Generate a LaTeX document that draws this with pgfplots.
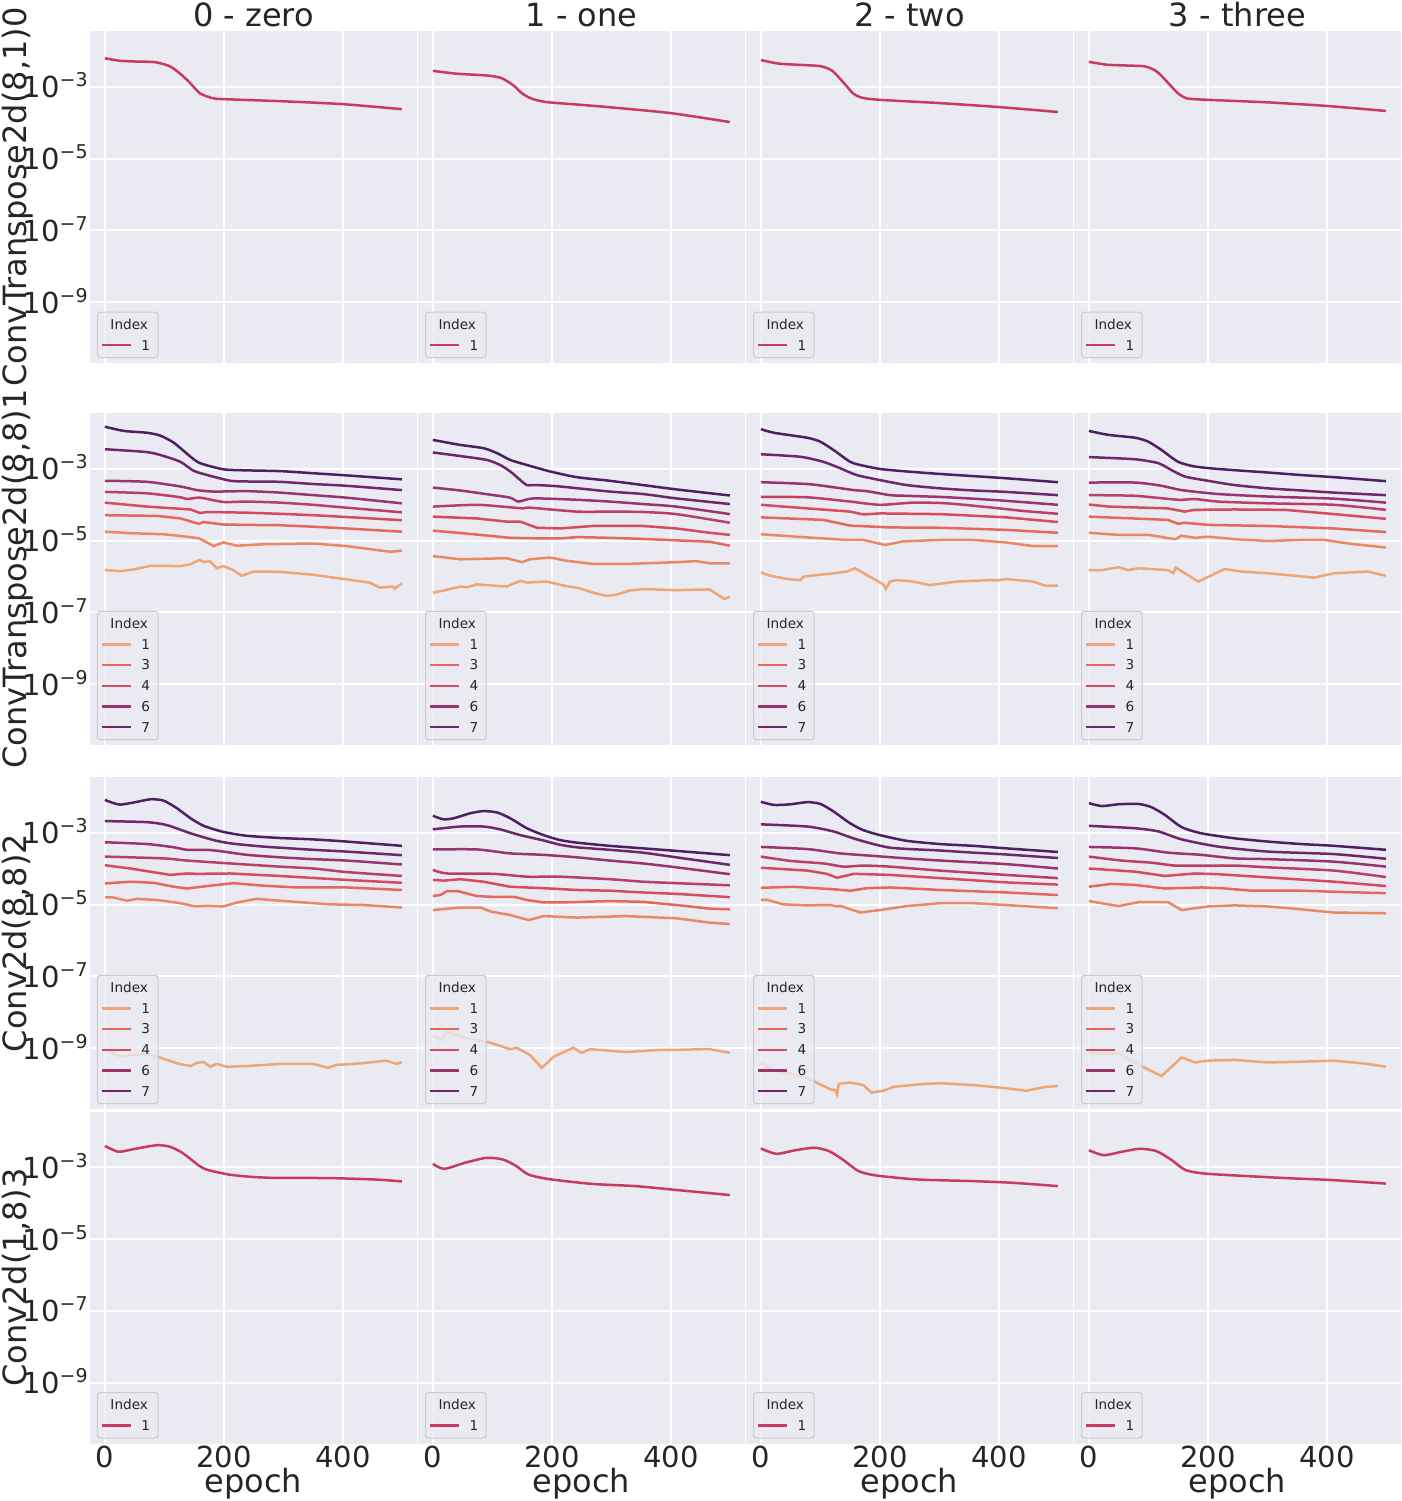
\documentclass[border=0pt]{standalone}
\usepackage{fontspec}
\setmainfont{DejaVu Sans}
\usepackage{pgfplots}
\pgfplotsset{compat=1.18}
\definecolor{seabg}{HTML}{EAEAF2}
\definecolor{txt}{HTML}{262626}
\definecolor{legedge}{HTML}{CCCCCC}
\definecolor{C0}{HTML}{EEA676}
\definecolor{C1}{HTML}{EA8866}
\definecolor{C2}{HTML}{E4695C}
\definecolor{C3}{HTML}{D54B5F}
\definecolor{C4}{HTML}{BB3E67}
\definecolor{C5}{HTML}{9A346E}
\definecolor{C6}{HTML}{6E2869}
\definecolor{C7}{HTML}{4E2062}
\definecolor{CS}{HTML}{C73B60}
\newcommand{\tenpow}[1]{10\raisebox{5.5pt}{\fontsize{9.5}{9.5}\selectfont −#1}}
\newcommand{\Lsingle}{\addlegendimage{empty legend}\addlegendentry{\hspace*{-15.5pt}Index}%
\addlegendimage{draw=CS}\addlegendentry{1}}
\newcommand{\Lmulti}{\addlegendimage{empty legend}\addlegendentry{\hspace*{-15.5pt}Index}%
\addlegendimage{draw=C0}\addlegendentry{1}%
\addlegendimage{draw=C2}\addlegendentry{3}%
\addlegendimage{draw=C3}\addlegendentry{4}%
\addlegendimage{draw=C5}\addlegendentry{6}%
\addlegendimage{draw=C6}\addlegendentry{7}}
\pgfplotsset{legend image code/.code={\draw[#1, line width=1.25pt] (0pt,0pt) -- (14.5pt,0pt);}}
\pgfplotsset{
  mys0/.style={draw=C0, line width=1.25pt, forget plot},
  mys1/.style={draw=C1, line width=1.25pt, forget plot},
  mys2/.style={draw=C2, line width=1.25pt, forget plot},
  mys3/.style={draw=C3, line width=1.25pt, forget plot},
  mys4/.style={draw=C4, line width=1.25pt, forget plot, smooth, tension=0.4},
  mys5/.style={draw=C5, line width=1.25pt, forget plot, smooth, tension=0.4},
  mys6/.style={draw=C6, line width=1.25pt, forget plot, smooth, tension=0.4},
  mys7/.style={draw=C7, line width=1.25pt, forget plot, smooth, tension=0.4},
  myss/.style={draw=CS, line width=1.25pt, forget plot, smooth, tension=0.4},
  mypanel/.style={
    scale only axis, width=163.35pt, height=166pt, anchor=north west,
    xmin=-24.95, xmax=523.95, ymin=2.0e-11, ymax=3.63e-2,
    xtick={0,200,400}, ytick={1e-9,1e-7,1e-5,1e-3},
    grid=major, grid style={white, line width=1pt},
    axis background/.style={fill=seabg},
    axis line style={draw=none},
    major tick length=0pt, minor tick length=0pt,
    xticklabels={,,}, yticklabels={,,,},
    legend cell align=left,
    legend style={at={(0,0)}, anchor=south west, xshift=3.5pt, yshift=2.5pt,
      draw=legedge, line width=0.5pt, fill=seabg, fill opacity=0.8, draw opacity=1, text opacity=1,
      rounded corners=1.5pt, font=\fontsize{6.8}{6.8}\selectfont, text=txt,
      inner xsep=1.5pt, inner ysep=1pt, row sep=0pt,
      /tikz/every odd column/.append style={column sep=4.75pt},
      nodes={inner sep=0pt, text height=4.9pt, text depth=0pt, minimum height=10.35pt, text width=6.8pt, align=left}},
  },
  myxl/.style={xticklabels={0,200,400}, xticklabel style={font=\fontsize{14.5}{14.5}\selectfont, text=txt, anchor=north, inner sep=0pt, text depth=0pt, yshift=-1pt}},
  myyl/.style={yticklabels={\tenpow{9},\tenpow{7},\tenpow{5},\tenpow{3}}, yticklabel style={font=\fontsize{14.5}{14.5}\selectfont, text=txt, anchor=base east, inner sep=0pt, xshift=-1pt, yshift=-5.5pt}},
}
\begin{document}
\begin{tikzpicture}
\path[use as bounding box] (0,0) rectangle (701pt,-750.5pt);
% ---------------- Row 0 ----------------
\begin{semilogyaxis}[mypanel, myyl, at={(45pt,-15.5pt)}]
\addplot[myss] coordinates {(0,6.31e-3)(25,5.37e-3)(50,5.13e-3)(85,4.90e-3)(110,3.72e-3)(130,2.09e-3)(145,1.20e-3)(160,6.61e-4)(180,4.90e-4)(200,4.57e-4)(300,3.98e-4)(400,3.31e-4)(499,2.40e-4)};
\Lsingle
\end{semilogyaxis}
\begin{semilogyaxis}[mypanel, at={(209pt,-15.5pt)}]
\addplot[myss] coordinates {(0,2.82e-3)(40,2.34e-3)(90,2.09e-3)(115,1.78e-3)(135,1.12e-3)(150,6.61e-4)(165,4.79e-4)(190,3.80e-4)(250,3.16e-4)(300,2.69e-4)(400,1.86e-4)(499,1.05e-4)};
\Lsingle
\end{semilogyaxis}
\begin{semilogyaxis}[mypanel, at={(373pt,-15.5pt)}]
\addplot[myss] coordinates {(0,5.62e-3)(30,4.47e-3)(60,4.17e-3)(100,3.80e-3)(120,2.82e-3)(140,1.26e-3)(155,6.61e-4)(170,5.01e-4)(200,4.37e-4)(300,3.55e-4)(400,2.75e-4)(499,2.00e-4)};
\Lsingle
\end{semilogyaxis}
\begin{semilogyaxis}[mypanel, at={(537pt,-15.5pt)}]
\addplot[myss] coordinates {(0,5.01e-3)(30,4.17e-3)(60,3.98e-3)(95,3.72e-3)(115,2.63e-3)(135,1.20e-3)(150,6.61e-4)(165,4.79e-4)(200,4.37e-4)(300,3.72e-4)(400,2.95e-4)(499,2.14e-4)};
\Lsingle
\end{semilogyaxis}
% ---------------- Row 1 ----------------
\begin{semilogyaxis}[mypanel, myyl, at={(45pt,-206.5pt)}]
\addplot[mys7] coordinates {(0,1.51e-2)(32,1.15e-2)(71,1.02e-2)(93,8.51e-3)(116,5.37e-3)(144,2.19e-3)(160,1.45e-3)(199,9.77e-4)(239,9.12e-4)(294,8.71e-4)(350,7.59e-4)(406,6.61e-4)(499,5.13e-4)};
\addplot[mys6] coordinates {(0,3.55e-3)(71,2.95e-3)(99,2.29e-3)(127,1.58e-3)(149,8.91e-4)(172,6.76e-4)(211,4.68e-4)(239,4.47e-4)(294,4.37e-4)(350,3.80e-4)(406,3.39e-4)(499,2.57e-4)};
\addplot[mys5] coordinates {(0,4.68e-4)(71,4.37e-4)(127,3.24e-4)(155,2.57e-4)(183,2.34e-4)(239,2.40e-4)(294,2.19e-4)(350,1.86e-4)(406,1.58e-4)(499,1.10e-4)};
\addplot[mys4] coordinates {(0,2.29e-4)(71,2.09e-4)(127,1.62e-4)(138,1.45e-4)(160,1.58e-4)(199,1.20e-4)(239,1.23e-4)(294,1.15e-4)(350,1.00e-4)(406,8.32e-5)(499,6.17e-5)};
\addplot[mys3] coordinates {(0,1.15e-4)(71,8.91e-5)(144,7.41e-5)(160,5.89e-5)(172,6.31e-5)(239,6.03e-5)(294,5.62e-5)(350,5.13e-5)(406,4.57e-5)(499,3.72e-5)};
\addplot[mys2] coordinates {(0,5.13e-5)(88,4.90e-5)(127,4.17e-5)(158,2.95e-5)(166,3.31e-5)(199,2.82e-5)(239,2.75e-5)(294,2.69e-5)(350,2.45e-5)(406,2.19e-5)(499,1.78e-5)};
\addplot[mys1] coordinates {(0,1.78e-5)(43,1.62e-5)(99,1.51e-5)(127,1.35e-5)(158,1.17e-5)(183,7.08e-6)(199,8.91e-6)(222,7.24e-6)(266,7.94e-6)(350,8.32e-6)(406,7.08e-6)(479,4.90e-6)(499,5.25e-6)};
\addplot[mys0] coordinates {(0,1.51e-6)(26,1.41e-6)(49,1.58e-6)(77,2.00e-6)(127,1.95e-6)(144,2.19e-6)(158,2.88e-6)(166,2.57e-6)(177,2.63e-6)(188,1.70e-6)(199,1.95e-6)(216,1.51e-6)(230,1.05e-6)(250,1.38e-6)(294,1.35e-6)(350,1.12e-6)(406,8.32e-7)(445,6.76e-7)(462,4.90e-7)(484,5.25e-7)(487,4.57e-7)(499,6.46e-7)};
\Lmulti
\end{semilogyaxis}
\begin{semilogyaxis}[mypanel, at={(209pt,-206.5pt)}]
\addplot[mys7] coordinates {(0,6.46e-3)(46,4.68e-3)(85,3.80e-3)(108,2.75e-3)(130,1.78e-3)(158,1.29e-3)(197,8.51e-4)(242,5.89e-4)(297,4.68e-4)(353,3.55e-4)(409,2.69e-4)(499,1.82e-4)};
\addplot[mys6] coordinates {(0,2.88e-3)(46,2.29e-3)(91,1.78e-3)(113,1.29e-3)(130,8.51e-4)(147,4.90e-4)(158,3.55e-4)(175,3.55e-4)(214,3.24e-4)(297,2.34e-4)(353,2.00e-4)(409,1.51e-4)(499,1.05e-4)};
\addplot[mys5] coordinates {(0,3.02e-4)(46,2.51e-4)(102,1.86e-4)(130,1.58e-4)(144,1.23e-4)(169,1.51e-4)(242,1.38e-4)(297,1.23e-4)(353,1.05e-4)(409,8.91e-5)(499,5.50e-5)};
\addplot[mys4] coordinates {(0,8.91e-5)(74,1.00e-4)(130,8.51e-5)(152,7.94e-5)(163,8.32e-5)(242,6.46e-5)(297,6.46e-5)(353,6.31e-5)(409,5.50e-5)(499,3.16e-5)};
\addplot[mys3] coordinates {(0,4.68e-5)(74,4.17e-5)(124,3.39e-5)(147,3.39e-5)(175,2.29e-5)(214,2.19e-5)(269,2.57e-5)(353,2.57e-5)(409,2.19e-5)(465,1.66e-5)(499,1.45e-5)};
\addplot[mys2] coordinates {(0,1.91e-5)(74,1.48e-5)(130,1.20e-5)(186,1.15e-5)(214,1.15e-5)(242,1.26e-5)(297,1.20e-5)(353,1.12e-5)(409,1.02e-5)(465,9.33e-6)(499,7.24e-6)};
\addplot[mys1] coordinates {(0,3.72e-6)(46,3.02e-6)(124,3.24e-6)(150,2.51e-6)(163,3.02e-6)(197,3.39e-6)(225,2.75e-6)(269,2.24e-6)(325,2.24e-6)(409,2.51e-6)(442,2.69e-6)(465,2.34e-6)(499,2.34e-6)};
\addplot[mys0] coordinates {(0,3.55e-7)(18,4.07e-7)(46,5.25e-7)(57,5.01e-7)(74,6.03e-7)(124,5.25e-7)(147,7.59e-7)(158,6.76e-7)(191,7.24e-7)(219,5.62e-7)(247,4.68e-7)(269,3.55e-7)(292,2.88e-7)(308,3.09e-7)(331,4.07e-7)(353,4.47e-7)(409,4.17e-7)(465,4.37e-7)(490,2.34e-7)(499,2.75e-7)};
\Lmulti
\end{semilogyaxis}
\begin{semilogyaxis}[mypanel, at={(373pt,-206.5pt)}]
\addplot[mys7] coordinates {(0,1.29e-2)(22,1.02e-2)(78,7.41e-3)(100,5.75e-3)(122,3.39e-3)(150,1.58e-3)(167,1.29e-3)(200,1.00e-3)(245,8.51e-4)(301,7.24e-4)(357,6.31e-4)(412,5.50e-4)(499,4.27e-4)};
\addplot[mys6] coordinates {(0,2.57e-3)(66,2.19e-3)(105,1.58e-3)(133,1.05e-3)(161,6.76e-4)(200,4.90e-4)(245,3.55e-4)(301,2.88e-4)(357,2.51e-4)(412,2.29e-4)(499,1.86e-4)};
\addplot[mys5] coordinates {(0,4.27e-4)(78,3.80e-4)(122,3.09e-4)(156,2.57e-4)(178,2.40e-4)(217,1.86e-4)(245,1.78e-4)(301,1.66e-4)(357,1.48e-4)(412,1.29e-4)(499,1.00e-4)};
\addplot[mys4] coordinates {(0,1.66e-4)(78,1.62e-4)(150,1.23e-4)(200,1.00e-4)(256,1.15e-4)(312,1.10e-4)(384,8.51e-5)(440,6.76e-5)(499,5.62e-5)};
\addplot[mys3] coordinates {(0,1.00e-4)(78,7.94e-5)(150,6.46e-5)(172,5.37e-5)(200,5.75e-5)(301,5.50e-5)(412,4.47e-5)(499,3.31e-5)};
\addplot[mys2] coordinates {(0,4.47e-5)(105,3.80e-5)(133,3.02e-5)(150,2.63e-5)(217,2.34e-5)(301,2.29e-5)(412,2.00e-5)(499,1.66e-5)};
\addplot[mys1] coordinates {(0,1.51e-5)(78,1.23e-5)(145,1.05e-5)(172,1.05e-5)(209,7.59e-6)(239,9.55e-6)(301,1.05e-5)(357,1.05e-5)(412,8.91e-6)(457,7.08e-6)(499,7.08e-6)};
\addplot[mys0] coordinates {(0,1.32e-6)(11,1.10e-6)(44,8.51e-7)(66,7.94e-7)(72,1.00e-6)(122,1.23e-6)(145,1.38e-6)(158,1.70e-6)(178,1.10e-6)(206,6.03e-7)(210,4.47e-7)(217,7.24e-7)(228,7.94e-7)(256,7.24e-7)(284,5.75e-7)(329,7.24e-7)(384,7.94e-7)(396,7.76e-7)(412,8.51e-7)(457,7.24e-7)(479,5.50e-7)(499,5.62e-7)};
\Lmulti
\end{semilogyaxis}
\begin{semilogyaxis}[mypanel, at={(537pt,-206.5pt)}]
\addplot[mys7] coordinates {(0,1.15e-2)(33,8.91e-3)(78,7.41e-3)(100,5.75e-3)(122,3.39e-3)(150,1.58e-3)(178,1.17e-3)(217,1.00e-3)(301,7.94e-4)(357,6.76e-4)(412,5.89e-4)(499,4.57e-4)};
\addplot[mys6] coordinates {(0,2.14e-3)(78,1.86e-3)(117,1.45e-3)(133,1.05e-3)(161,6.17e-4)(200,4.68e-4)(245,3.55e-4)(301,2.88e-4)(357,2.51e-4)(412,2.19e-4)(499,1.86e-4)};
\addplot[mys5] coordinates {(0,4.17e-4)(78,4.17e-4)(122,3.39e-4)(156,2.57e-4)(217,2.00e-4)(301,1.70e-4)(412,1.48e-4)(499,1.15e-4)};
\addplot[mys4] coordinates {(0,1.86e-4)(78,1.78e-4)(150,1.38e-4)(178,1.45e-4)(217,1.23e-4)(301,1.10e-4)(412,1.00e-4)(499,7.24e-5)};
\addplot[mys3] coordinates {(0,1.02e-4)(33,8.91e-5)(133,7.94e-5)(161,6.46e-5)(178,7.24e-5)(245,7.41e-5)(329,7.24e-5)(412,5.50e-5)(499,4.07e-5)};
\addplot[mys2] coordinates {(0,4.68e-5)(133,3.80e-5)(150,2.95e-5)(161,3.16e-5)(200,2.75e-5)(301,2.57e-5)(412,2.19e-5)(499,1.74e-5)};
\addplot[mys1] coordinates {(0,1.66e-5)(50,1.45e-5)(100,1.45e-5)(145,1.10e-5)(156,1.38e-5)(178,1.20e-5)(200,1.29e-5)(245,1.10e-5)(301,9.77e-6)(357,1.05e-5)(396,1.05e-5)(440,8.13e-6)(499,6.46e-6)};
\addplot[mys0] coordinates {(0,1.51e-6)(22,1.51e-6)(50,1.82e-6)(66,1.51e-6)(83,1.70e-6)(133,1.51e-6)(142,1.23e-6)(146,1.78e-6)(184,7.24e-7)(228,1.62e-6)(256,1.38e-6)(301,1.23e-6)(379,9.33e-7)(412,1.23e-6)(468,1.38e-6)(499,1.05e-6)};
\Lmulti
\end{semilogyaxis}
% ---------------- Row 2 ----------------
\begin{semilogyaxis}[mypanel, myyl, at={(45pt,-388.5pt)}]
\addplot[mys7] coordinates {(0,8.32e-3)(15,6.76e-3)(26,6.17e-3)(49,7.08e-3)(77,8.71e-3)(99,7.94e-3)(121,4.90e-3)(144,2.57e-3)(166,1.58e-3)(199,1.07e-3)(239,8.32e-4)(294,7.24e-4)(350,6.61e-4)(406,5.75e-4)(499,4.37e-4)};
\addplot[mys6] coordinates {(0,2.14e-3)(71,2.00e-3)(104,1.66e-3)(144,9.77e-4)(183,6.31e-4)(211,5.13e-4)(266,4.17e-4)(350,3.39e-4)(406,3.02e-4)(499,2.40e-4)};
\addplot[mys5] coordinates {(0,5.50e-4)(71,4.90e-4)(116,3.98e-4)(138,3.39e-4)(172,3.39e-4)(199,3.02e-4)(239,2.45e-4)(294,2.09e-4)(350,1.86e-4)(406,1.70e-4)(499,1.32e-4)};
\addplot[mys4] coordinates {(0,2.19e-4)(99,1.95e-4)(138,1.70e-4)(211,1.41e-4)(294,1.15e-4)(350,1.02e-4)(406,8.13e-5)(499,6.31e-5)};
\addplot[mys3] coordinates {(0,1.26e-4)(43,1.02e-4)(110,6.76e-5)(138,7.41e-5)(155,7.24e-5)(211,7.41e-5)(294,6.31e-5)(406,4.90e-5)(499,4.07e-5)};
\addplot[mys2] coordinates {(0,3.89e-5)(43,4.37e-5)(82,4.07e-5)(116,3.16e-5)(138,2.82e-5)(172,3.31e-5)(216,3.98e-5)(266,3.39e-5)(322,3.02e-5)(406,3.02e-5)(499,2.57e-5)};
\addplot[mys1] coordinates {(0,1.62e-5)(15,1.58e-5)(37,1.29e-5)(54,1.45e-5)(88,1.35e-5)(127,1.10e-5)(152,8.91e-6)(172,9.33e-6)(199,8.91e-6)(222,1.15e-5)(255,1.45e-5)(294,1.29e-5)(378,1.02e-5)(434,9.77e-6)(499,8.32e-6)};
\addplot[mys0] coordinates {(0,9.77e-10)(15,7.08e-10)(26,5.75e-10)(43,6.46e-10)(71,6.76e-10)(88,5.75e-10)(104,4.68e-10)(127,3.55e-10)(144,3.16e-10)(155,3.89e-10)(166,4.07e-10)(177,3.02e-10)(188,3.63e-10)(205,3.02e-10)(239,3.16e-10)(294,3.63e-10)(350,3.63e-10)(375,2.82e-10)(389,3.39e-10)(434,3.80e-10)(473,4.47e-10)(490,3.63e-10)(499,4.07e-10)};
\Lmulti
\end{semilogyaxis}
\begin{semilogyaxis}[mypanel, at={(209pt,-388.5pt)}]
\addplot[mys7] coordinates {(0,3.02e-3)(18,2.40e-3)(35,2.57e-3)(63,3.55e-3)(85,4.07e-3)(108,3.72e-3)(130,2.57e-3)(158,1.35e-3)(186,8.71e-4)(214,6.31e-4)(242,5.37e-4)(297,4.37e-4)(353,3.72e-4)(409,3.16e-4)(499,2.40e-4)};
\addplot[mys6] coordinates {(0,1.26e-3)(46,1.51e-3)(85,1.51e-3)(113,1.26e-3)(147,8.71e-4)(186,6.17e-4)(214,4.68e-4)(242,3.98e-4)(297,3.39e-4)(353,2.82e-4)(409,2.09e-4)(499,1.29e-4)};
\addplot[mys5] coordinates {(0,3.47e-4)(74,3.47e-4)(130,2.69e-4)(186,2.45e-4)(242,2.09e-4)(297,1.70e-4)(353,1.41e-4)(409,1.10e-4)(499,7.08e-5)};
\addplot[mys4] coordinates {(0,9.33e-5)(24,7.41e-5)(102,7.24e-5)(158,6.03e-5)(214,6.03e-5)(297,5.13e-5)(353,4.37e-5)(409,3.98e-5)(499,3.47e-5)};
\addplot[mys3] coordinates {(0,4.90e-5)(18,4.68e-5)(46,5.13e-5)(85,4.37e-5)(130,3.16e-5)(186,2.88e-5)(242,2.57e-5)(297,2.45e-5)(353,2.19e-5)(409,2.00e-5)(499,1.62e-5)};
\addplot[mys2] coordinates {(0,1.74e-5)(13,1.86e-5)(24,2.40e-5)(41,2.40e-5)(74,1.74e-5)(97,1.66e-5)(136,1.66e-5)(158,1.35e-5)(186,1.15e-5)(214,1.15e-5)(297,1.26e-5)(353,1.20e-5)(409,9.77e-6)(465,7.76e-6)(499,7.41e-6)};
\addplot[mys1] coordinates {(0,7.08e-6)(46,8.32e-6)(80,8.32e-6)(97,6.46e-6)(130,5.13e-6)(161,3.72e-6)(186,4.79e-6)(242,4.37e-6)(325,4.79e-6)(409,4.17e-6)(465,3.16e-6)(499,2.88e-6)};
\addplot[mys0] coordinates {(0,2.19e-9)(13,1.70e-9)(24,2.88e-9)(46,2.09e-9)(74,1.70e-9)(97,1.41e-9)(130,9.33e-10)(141,1.02e-9)(163,6.46e-10)(183,2.82e-10)(203,5.75e-10)(236,1.02e-9)(250,7.41e-10)(264,9.33e-10)(325,7.76e-10)(381,8.91e-10)(409,8.91e-10)(454,9.33e-10)(465,9.33e-10)(499,7.41e-10)};
\Lmulti
\end{semilogyaxis}
\begin{semilogyaxis}[mypanel, at={(373pt,-388.5pt)}]
\addplot[mys7] coordinates {(0,7.41e-3)(22,6.03e-3)(50,6.31e-3)(78,7.24e-3)(100,6.46e-3)(122,3.98e-3)(150,1.86e-3)(172,1.20e-3)(200,8.71e-4)(245,6.03e-4)(301,4.90e-4)(357,4.37e-4)(412,3.72e-4)(499,2.95e-4)};
\addplot[mys6] coordinates {(0,1.74e-3)(78,1.51e-3)(122,1.10e-3)(161,6.61e-4)(217,3.89e-4)(301,3.24e-4)(357,2.82e-4)(412,2.51e-4)(499,2.00e-4)};
\addplot[mys5] coordinates {(0,4.07e-4)(78,3.55e-4)(133,2.69e-4)(189,2.29e-4)(245,1.95e-4)(301,1.70e-4)(412,1.35e-4)(499,1.02e-4)};
\addplot[mys4] coordinates {(0,2.19e-4)(50,1.66e-4)(105,1.41e-4)(139,1.15e-4)(172,1.23e-4)(217,1.15e-4)(301,8.91e-5)(412,6.76e-5)(499,5.50e-5)};
\addplot[mys3] coordinates {(0,1.07e-4)(78,8.91e-5)(111,7.24e-5)(128,5.62e-5)(156,7.24e-5)(217,6.76e-5)(301,5.50e-5)(412,4.17e-5)(499,3.63e-5)};
\addplot[mys2] coordinates {(0,2.95e-5)(55,3.16e-5)(122,2.69e-5)(150,2.45e-5)(178,2.88e-5)(217,3.02e-5)(301,2.57e-5)(412,2.19e-5)(499,1.86e-5)};
\addplot[mys1] coordinates {(0,1.35e-5)(11,1.35e-5)(38,1.02e-5)(78,9.55e-6)(117,9.77e-6)(128,8.91e-6)(133,9.33e-6)(167,6.03e-6)(200,7.08e-6)(245,9.12e-6)(301,1.10e-5)(357,1.10e-5)(412,9.77e-6)(499,7.94e-6)};
\addplot[mys0] coordinates {(0,3.80e-10)(22,2.45e-10)(50,1.91e-10)(78,1.45e-10)(117,7.08e-11)(125,6.76e-11)(128,5.25e-11)(131,1.00e-10)(150,1.10e-10)(172,9.33e-11)(186,5.75e-11)(206,6.46e-11)(223,8.32e-11)(273,1.00e-10)(301,1.05e-10)(357,9.33e-11)(412,7.59e-11)(446,6.46e-11)(479,8.32e-11)(499,8.71e-11)};
\Lmulti
\end{semilogyaxis}
\begin{semilogyaxis}[mypanel, at={(537pt,-388.5pt)}]
\addplot[mys7] coordinates {(0,6.76e-3)(22,5.62e-3)(50,6.31e-3)(83,6.46e-3)(105,5.25e-3)(128,3.16e-3)(156,1.45e-3)(189,9.77e-4)(245,7.08e-4)(301,5.75e-4)(357,4.90e-4)(412,4.37e-4)(499,3.39e-4)};
\addplot[mys6] coordinates {(0,1.58e-3)(78,1.35e-3)(117,1.10e-3)(156,6.61e-4)(217,4.17e-4)(301,3.02e-4)(412,2.57e-4)(499,1.91e-4)};
\addplot[mys5] coordinates {(0,4.07e-4)(78,3.72e-4)(133,2.82e-4)(189,2.45e-4)(245,1.95e-4)(301,1.86e-4)(412,1.58e-4)(499,1.15e-4)};
\addplot[mys4] coordinates {(0,2.19e-4)(55,1.70e-4)(105,1.48e-4)(145,1.23e-4)(189,1.23e-4)(245,1.23e-4)(301,1.10e-4)(412,8.91e-5)(499,5.89e-5)};
\addplot[mys3] coordinates {(0,1.02e-4)(78,8.32e-5)(128,6.31e-5)(178,7.41e-5)(217,7.08e-5)(301,5.75e-5)(412,4.37e-5)(499,3.31e-5)};
\addplot[mys2] coordinates {(0,3.16e-5)(38,3.80e-5)(78,3.55e-5)(128,2.82e-5)(189,3.02e-5)(223,2.88e-5)(273,2.45e-5)(357,2.45e-5)(412,2.29e-5)(499,2.09e-5)};
\addplot[mys1] coordinates {(0,1.26e-5)(50,9.12e-6)(83,1.17e-5)(133,1.17e-5)(156,7.08e-6)(200,8.91e-6)(245,9.55e-6)(301,8.91e-6)(357,7.41e-6)(412,6.03e-6)(499,5.75e-6)};
\addplot[mys0] coordinates {(0,7.41e-10)(22,6.92e-10)(50,7.08e-10)(78,3.80e-10)(122,1.66e-10)(156,5.50e-10)(178,3.98e-10)(200,4.47e-10)(245,4.68e-10)(301,3.98e-10)(357,4.17e-10)(412,4.47e-10)(468,3.63e-10)(499,3.02e-10)};
\Lmulti
\end{semilogyaxis}
% ---------------- Row 3 ----------------
\begin{semilogyaxis}[mypanel, myyl, myxl, at={(45pt,-555.75pt)}]
\addplot[myss] coordinates {(0,3.98e-3)(23,2.75e-3)(51,3.31e-3)(87,4.17e-3)(109,3.80e-3)(130,2.57e-3)(159,1.10e-3)(173,8.51e-4)(209,6.31e-4)(244,5.50e-4)(280,5.13e-4)(316,5.13e-4)(387,5.01e-4)(459,4.57e-4)(499,4.07e-4)};
\Lsingle
\end{semilogyaxis}
\begin{semilogyaxis}[mypanel, myxl, at={(209pt,-555.75pt)}]
\addplot[myss] coordinates {(0,1.26e-3)(19,9.12e-4)(54,1.35e-3)(90,1.86e-3)(118,1.66e-3)(140,1.10e-3)(161,6.31e-4)(197,4.68e-4)(268,3.47e-4)(340,3.02e-4)(411,2.34e-4)(499,1.70e-4)};
\Lsingle
\end{semilogyaxis}
\begin{semilogyaxis}[mypanel, myxl, at={(373pt,-555.75pt)}]
\addplot[myss] coordinates {(0,3.39e-3)(26,2.40e-3)(58,3.02e-3)(90,3.55e-3)(114,2.88e-3)(136,1.74e-3)(164,7.94e-4)(192,6.03e-4)(249,4.79e-4)(284,4.47e-4)(354,4.17e-4)(425,3.72e-4)(499,3.02e-4)};
\Lsingle
\end{semilogyaxis}
\begin{semilogyaxis}[mypanel, myxl, at={(537pt,-555.75pt)}]
\addplot[myss] coordinates {(0,3.02e-3)(25,2.19e-3)(53,2.69e-3)(85,3.31e-3)(113,2.88e-3)(138,1.66e-3)(162,8.51e-4)(194,6.76e-4)(265,5.75e-4)(335,5.01e-4)(406,4.47e-4)(499,3.55e-4)};
\Lsingle
\end{semilogyaxis}
% ---------------- Labels ----------------
\begin{scope}[every node/.style={text=txt, font=\fontsize{16}{16}\selectfont}]
\node[anchor=base] at (126.7pt,-13pt) {0 - zero};
\node[anchor=base] at (290.7pt,-13pt) {1 - one};
\node[anchor=base] at (454.7pt,-13pt) {2 - two};
\node[anchor=base] at (618.7pt,-13pt) {3 - three};
\node[anchor=base, inner sep=0pt, text height=8.5pt] at (126.7pt,-746.3pt) {epoch};
\node[anchor=base, inner sep=0pt, text height=8.5pt] at (290.7pt,-746.3pt) {epoch};
\node[anchor=base, inner sep=0pt, text height=8.5pt] at (454.7pt,-746.3pt) {epoch};
\node[anchor=base, inner sep=0pt, text height=8.5pt] at (618.7pt,-746.3pt) {epoch};
\node[anchor=base, rotate=90] at (13pt,-98.5pt) {ConvTranspose2d(8,1)0};
\node[anchor=base, rotate=90] at (13pt,-289.5pt) {ConvTranspose2d(8,8)1};
\node[anchor=base, rotate=90] at (13pt,-471.5pt) {Conv2d(8,8)2};
\node[anchor=base, rotate=90] at (13pt,-638.75pt) {Conv2d(1,8)3};
\end{scope}
\end{tikzpicture}
\end{document}
